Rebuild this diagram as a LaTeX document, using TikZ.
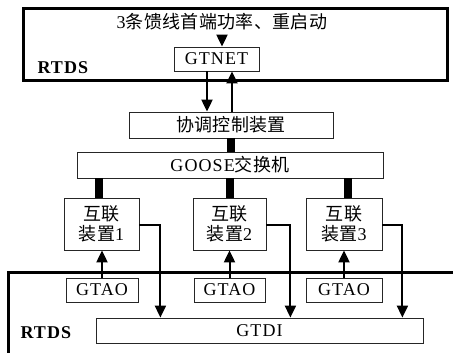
\documentclass[tikz,border=0pt]{standalone}
\usepackage{fontspec}
\setmainfont{Liberation Serif}[LetterSpace=6]
\newfontfamily\cjk{Noto Sans CJK SC}[LetterSpace=2]
\usetikzlibrary{arrows.meta}
\begin{document}
\begin{tikzpicture}[x=1pt,y=-1pt,
  font=\fontsize{18pt}{20pt}\selectfont,
  box/.style={draw=black!85,line width=0.8pt,inner sep=0pt,align=center},
  arr/.style={line width=2pt,-{Triangle[length=12pt,width=11pt]}},
  bar/.style={line width=8pt},
  frame/.style={line width=3pt}]
\useasboundingbox (0,0) rectangle (453,353);
% top RTDS frame
\node[draw,frame,minimum width=424pt,minimum height=72pt,inner sep=0pt] (rtdsA) at (235,45) {};
\node[anchor=west,font=\fontsize{18pt}{20pt}\selectfont\bfseries] (lblA) at (34,68) {RTDS};
\node (toptext) at (222,22) {3{\cjk 条馈线首端功率、重启动}};
\node[box,minimum width=85pt,minimum height=24pt] (gtnet) at (216.5,59) {GTNET};
% coordination
\node[box,minimum width=204pt,minimum height=26pt] (coord) at (231,125) {\cjk 协调控制装置};
\node[box,minimum width=306pt,minimum height=26pt] (goose) at (230,165) {GOOSE{\cjk 交换机}};
% devices
\node[box,minimum width=75pt,minimum height=52pt] (dev1) at (101.5,224) {{\cjk 互联}\\{\cjk 装置}1};
\node[box,minimum width=73pt,minimum height=52pt] (dev2) at (229.5,224) {{\cjk 互联}\\{\cjk 装置}2};
\node[box,minimum width=76pt,minimum height=52pt] (dev3) at (344,224) {{\cjk 互联}\\{\cjk 装置}3};
% GTAO
\node[box,minimum width=72pt,minimum height=24pt] (gtao1) at (102,290) {GTAO};
\node[box,minimum width=71pt,minimum height=24pt] (gtao2) at (229.5,290) {GTAO};
\node[box,minimum width=76pt,minimum height=24pt] (gtao3) at (344,290) {GTAO};
% GTDI
\node[box,minimum width=327pt,minimum height=25pt] (gtdi) at (259.5,330.5) {GTDI};
\node[anchor=west,font=\fontsize{18pt}{20pt}\selectfont\bfseries] (lblB) at (17,333) {RTDS};
% bottom RTDS frame
\coordinate (fa) at (453,272);
\coordinate (fb) at (8,272);
\coordinate (fc) at (8,353);
\draw[frame] (fa) -- (fb) -- (fc);
% arrows top
\draw[arr] ([yshift=-1pt]toptext.south) -- (toptext.south |- gtnet.north);
\draw[arr] ([xshift=-9.5pt]gtnet.south) -- ([xshift=-9.5pt]gtnet.south |- coord.north);
\draw[arr] ([xshift=15.5pt]gtnet.south |- coord.north) -- ([xshift=15.5pt]gtnet.south);
% bars
\draw[bar] (coord.south) -- (coord.south |- goose.north);
\draw[bar] ([xshift=-2.5pt]dev1.north |- goose.south) -- ([xshift=-2.5pt]dev1.north);
\draw[bar] (dev2.north |- goose.south) -- (dev2.north);
\draw[bar] ([xshift=4pt]dev3.north |- goose.south) -- ([xshift=4pt]dev3.north);
% GTAO to devices
\draw[arr] (gtao1.north) -- (gtao1.north |- dev1.south);
\draw[arr] (gtao2.north) -- (gtao2.north |- dev2.south);
\draw[arr] (gtao3.north) -- (gtao3.north |- dev3.south);
% devices to GTDI
\draw[arr] ([yshift=-1pt]dev1.east) -- ++(21,0) coordinate (t1) -- (t1 |- gtdi.north);
\draw[arr] ([yshift=-1pt]dev2.east) -- ++(24,0) coordinate (t2) -- (t2 |- gtdi.north);
\draw[arr] ([yshift=-1pt]dev3.east) -- ++(20,0) coordinate (t3) -- (t3 |- gtdi.north);
\end{tikzpicture}
\end{document}
